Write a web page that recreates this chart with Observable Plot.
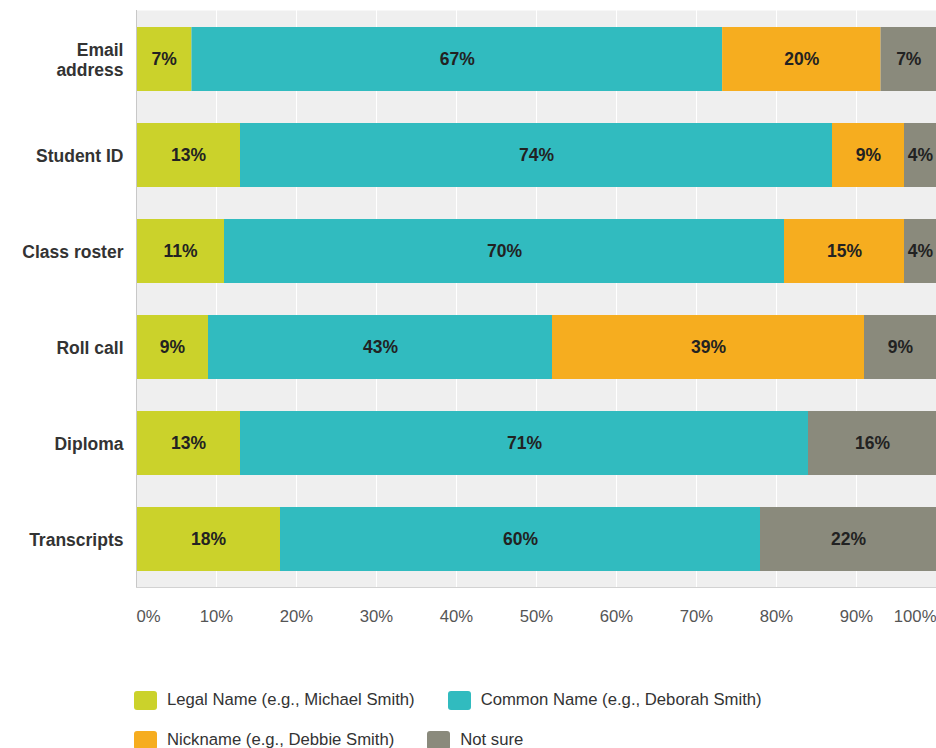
<!DOCTYPE html>
<html>
<head>
<meta charset="utf-8">
<script src="https://cdn.jsdelivr.net/npm/d3@7"></script>
<script src="https://cdn.jsdelivr.net/npm/@observablehq/plot@0.6"></script>
<style>
  html, body { margin: 0; padding: 0; background: #fff; overflow: hidden; }
  body { font-family: "Liberation Sans", Arial, sans-serif; }
  #chart { position: absolute; left: 0; top: 0; }
  #legend {
    position: absolute; left: 134px; top: 690px; width: 640px;
    display: flex; flex-wrap: wrap; column-gap: 33px; row-gap: 20px;
    font-size: 16.7px; color: #333;
  }
  .item { display: flex; align-items: center; height: 20px; }
  .sw { width: 23px; height: 19px; border-radius: 3px; margin-right: 10px; }
</style>
</head>
<body>
<div id="chart"></div>
<div id="legend"></div>
<script>
// ---- data ----
const categories = ["Email address", "Student ID", "Class roster", "Roll call", "Diploma", "Transcripts"];
const categoryLabels = ["Email\naddress", "Student ID", "Class roster", "Roll call", "Diploma", "Transcripts"];
const seriesNames = ["Legal Name (e.g., Michael Smith)", "Common Name (e.g., Deborah Smith)", "Nickname (e.g., Debbie Smith)", "Not sure"];
const legalName  = [7, 13, 11, 9, 13, 18];
const commonName = [67, 74, 70, 43, 71, 60];
const nickname   = [20, 9, 15, 39, 0, 0];
const notSure    = [7, 4, 4, 9, 16, 22];
const xTicks = [0, 10, 20, 30, 40, 50, 60, 70, 80, 90, 100];
const xTickLabels = ["0%", "10%", "20%", "30%", "40%", "50%", "60%", "70%", "80%", "90%", "100%"];
const colors = ["#cbd22b", "#31bbbf", "#f6ad1f", "#8a8a7c"];

// ---- table ----
const seriesValues = [legalName, commonName, nickname, notSure];
const table = [];
categories.forEach((c, i) => {
  seriesNames.forEach((s, j) => {
    table.push({category: c, series: s, value: seriesValues[j][i]});
  });
});
const tickData = xTicks.map((v, i) => ({v: v / 100, label: xTickLabels[i]}));
const catData = categories.map((c, i) => ({category: c, label: categoryLabels[i]}));

const font = "Liberation Sans, Arial, sans-serif";
const stackOpts = {x: "value", y: "category", z: "series", order: seriesNames, offset: "normalize"};

const chart = Plot.plot({
  width: 936,
  height: 640,
  marginTop: 10,
  marginBottom: 53,
  marginLeft: 136,
  marginRight: 0,
  style: {fontFamily: font, background: "#fff"},
  x: {domain: [0, 1], axis: null},
  y: {domain: categories, padding: 0, axis: null},
  color: {domain: seriesNames, range: colors},
  marks: [
    Plot.frame({fill: "#efefef", stroke: null}),
    Plot.gridX(tickData.map(d => d.v), {stroke: "#ffffff", strokeOpacity: 1, strokeWidth: 1}),
    Plot.barX(table, Plot.stackX({...stackOpts, fill: "series", insetTop: 16, insetBottom: 16})),
    Plot.text(table.filter(d => d.value > 0), Plot.stackX({
      ...stackOpts,
      text: d => d.value + "%",
      fontSize: 17.5, fontWeight: "bold", fill: "#222"
    })),
    Plot.ruleX([0], {stroke: "#c8c8c8", strokeWidth: 1}),
    Plot.frame({anchor: "bottom", stroke: "#d2d2d2"}),
    Plot.text(catData, {
      y: "category", text: "label", frameAnchor: "left", textAnchor: "end", dx: -13,
      fontSize: 17.5, fontWeight: "bold", fill: "#333", lineHeight: 1.14
    }),
    Plot.text(tickData.filter(d => d.v === 0), {x: "v", text: "label", frameAnchor: "bottom", dy: 34, textAnchor: "start", fontSize: 16.7, fill: "#555"}),
    Plot.text(tickData.filter(d => d.v > 0 && d.v < 1), {x: "v", text: "label", frameAnchor: "bottom", dy: 34, textAnchor: "middle", fontSize: 16.7, fill: "#555"}),
    Plot.text(tickData.filter(d => d.v === 1), {x: "v", text: "label", frameAnchor: "bottom", dy: 34, textAnchor: "end", fontSize: 16.7, fill: "#555"})
  ]
});
document.getElementById("chart").appendChild(chart);

const legend = document.getElementById("legend");
seriesNames.forEach((s, i) => {
  const item = document.createElement("div");
  item.className = "item";
  const sw = document.createElement("span");
  sw.className = "sw";
  sw.style.background = colors[i];
  const t = document.createElement("span");
  t.textContent = s;
  item.appendChild(sw);
  item.appendChild(t);
  legend.appendChild(item);
});
</script>
</body>
</html>
